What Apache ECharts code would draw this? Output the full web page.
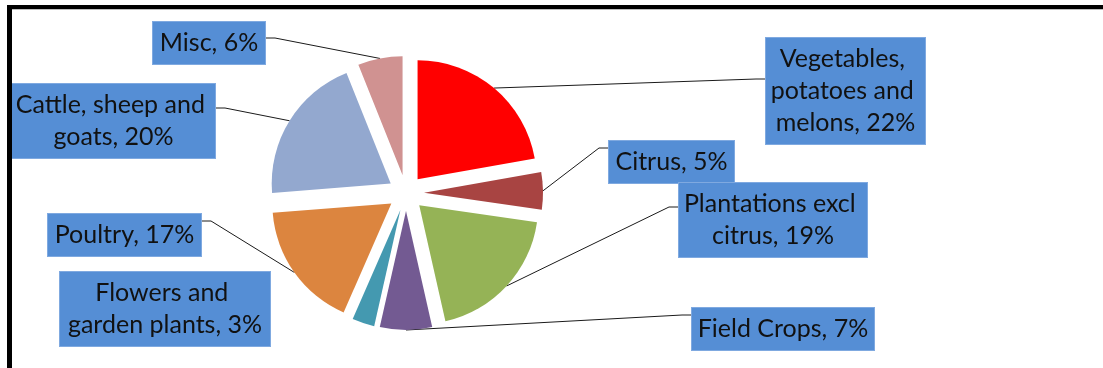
<!DOCTYPE html>
<html>
<head>
<meta charset="utf-8">
<script src="https://cdn.jsdelivr.net/npm/echarts@6/dist/echarts.min.js"></script>
<style>
  html, body { margin: 0; padding: 0; background: #fff; }
  #wrap { position: relative; width: 1103px; height: 368px; overflow: hidden; }
  #chart { position: absolute; left: 0; top: 0; width: 1103px; height: 368px; }
  #frame { position: absolute; left: 7px; top: 5px; width: 1200px; height: 500px;
           border-top: 4px solid #000; border-left: 5px solid #000; pointer-events: none; }
  #frame2 { position: absolute; left: 12px; top: 9px; width: 1200px; height: 1px; background: #bdbdbd; }
</style>
</head>
<body>
<div id="wrap">
  <div id="chart"></div>
  <div id="frame"></div>
  <div id="frame2"></div>
</div>
<script>
// ---- data ----
const categories = [
  'Vegetables, potatoes and melons',
  'Citrus',
  'Plantations excl citrus',
  'Field Crops',
  'Flowers and garden plants',
  'Poultry',
  'Cattle, sheep and goats',
  'Misc'
];
const shares = [22, 5, 19, 7, 3, 17, 20, 6];

// ---- styling / layout (not data) ----
const sliceColors = ['#FF0000', '#A84442', '#95B356', '#735A92', '#4499B0', '#DC853F', '#93A8CF', '#D09291'];
// label boxes: left, top, width, lines, attach offset from top for leader line
const boxes = [
  { x: 766, y: 38,  w: 159, lines: 3, attach: 41 },
  { x: 609, y: 141, w: 125, lines: 1, attach: 7 },
  { x: 679, y: 183, w: 188, lines: 2, attach: 24 },
  { x: 692, y: 308, w: 182, lines: 1, attach: 7 },
  { x: 60,  y: 272, w: 210, lines: 2, attach: 0 },
  { x: 48,  y: 214, w: 153, lines: 1, attach: 7 },
  { x: 12,  y: 84,  w: 203, lines: 2, attach: 24 },
  { x: 153, y: 22,  w: 112, lines: 1, attach: 16 }
];
const LINE_H = 32;
const CENTER = [406, 193];
const RADIUS = 119;
const EXPLODE = 18;

const chart = echarts.init(document.getElementById('chart'), null, { renderer: 'canvas' });

const sliceData = categories.map((name, i) => ({
  name: name, value: shares[i], selected: true, itemStyle: { color: sliceColors[i] }
}));
const labelData = categories.map((name, i) => ({
  name: name,
  value: shares[i],
  label: { width: boxes[i].w, height: boxes[i].lines * LINE_H },
  labelLine: { show: i !== 4 }
}));

chart.setOption({
  animation: false,
  series: [{
    type: 'pie',
    center: CENTER,
    radius: RADIUS,
    startAngle: 90,
    clockwise: true,
    selectedMode: 'multiple',
    selectedOffset: EXPLODE,
    emphasis: { disabled: true },
    label: { show: false },
    labelLine: { show: false },
    data: sliceData
  }, {
    type: 'pie',
    center: CENTER,
    radius: RADIUS,
    startAngle: 90,
    clockwise: true,
    silent: true,
    selectedMode: false,
    emphasis: { disabled: true },
    itemStyle: { color: 'rgba(0,0,0,0)' },
    avoidLabelOverlap: false,
    label: {
      show: true,
      position: 'outside',
      formatter: p => p.name + ', ' + p.value + '%',
      fontFamily: 'Lato',
      fontSize: 25,
      lineHeight: LINE_H,
      color: '#111111',
      backgroundColor: '#558ED5',
      borderColor: '#7FA9E0',
      borderWidth: 1,
      padding: [5, 0],
      align: 'center',
      overflow: 'break'
    },
    labelLine: {
      show: true,
      length: 10,
      length2: 10,
      lineStyle: { color: '#1a1a1a', width: 1 }
    },
    labelLayout: function (p) {
      const b = boxes[p.dataIndex];
      const res = { x: b.x + b.w / 2, y: b.y, align: 'center', verticalAlign: 'top' };
      const pts = p.labelLinePoints;
      if (pts && pts.length) {
        const a0 = pts[0];
        const vx = a0[0] - CENTER[0], vy = a0[1] - CENTER[1];
        const len = Math.sqrt(vx * vx + vy * vy) || 1;
        const a = [a0[0] + vx / len * EXPLODE, a0[1] + vy / len * EXPLODE];
        const ey = b.y + b.attach;
        let end, bend;
        if (a[0] < b.x) { end = [b.x, ey]; bend = [b.x - 10, ey]; }
        else { end = [b.x + b.w, ey]; bend = [b.x + b.w + 10, ey]; }
        res.labelLinePoints = [a, bend, end];
      }
      return res;
    },
    data: labelData
  }]
});
</script>
</body>
</html>
